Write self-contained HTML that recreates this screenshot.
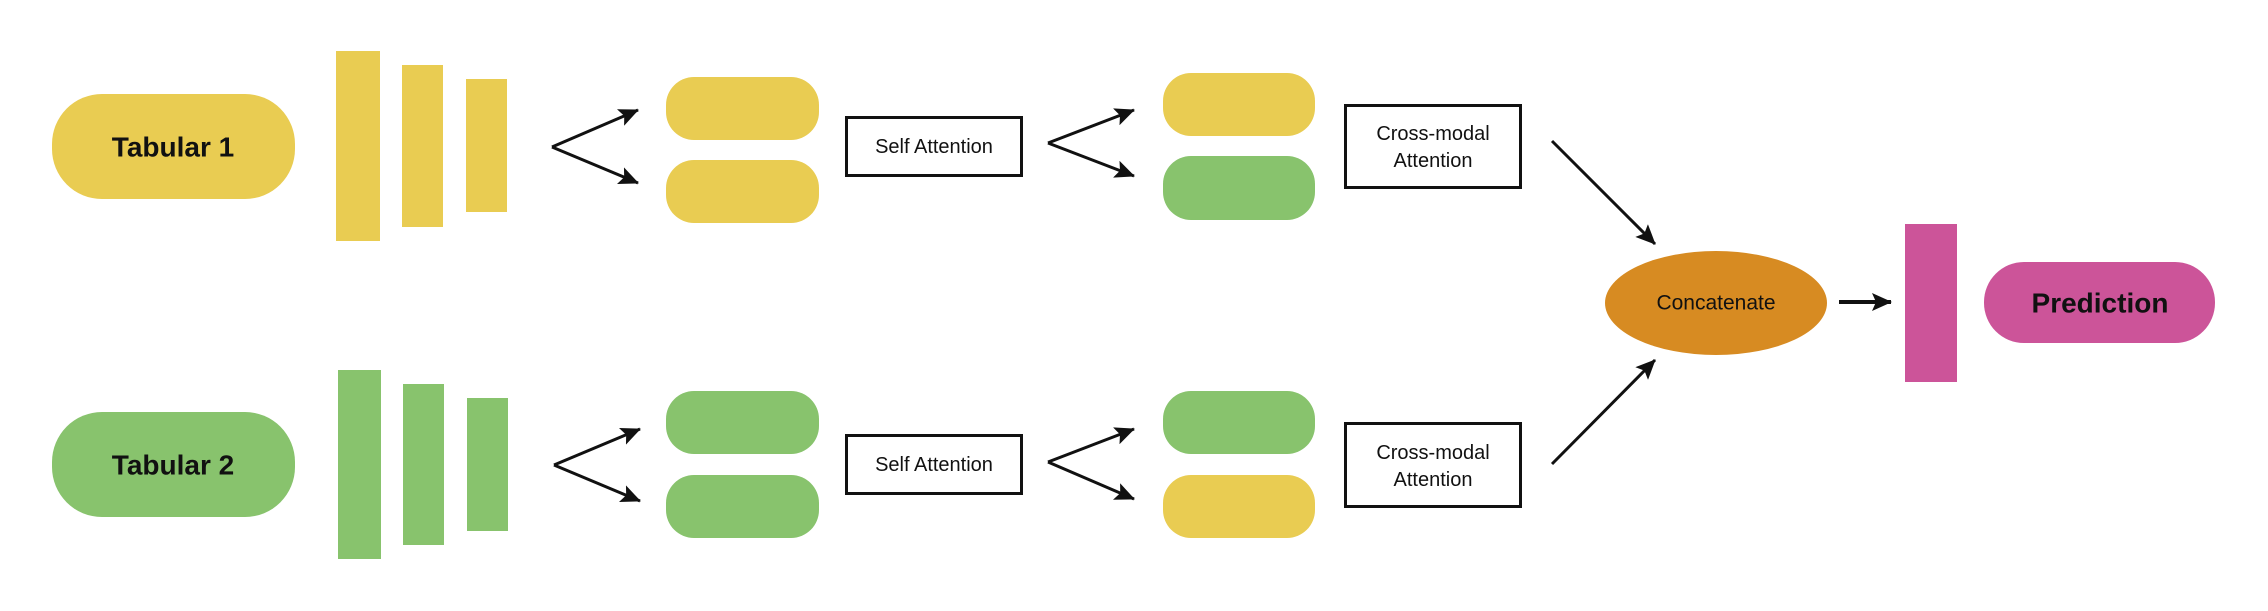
<!DOCTYPE html>
<html><head><style>
html,body{margin:0;padding:0;background:#fff;}
svg{display:block;}
text{font-family:"Liberation Sans",sans-serif;fill:#111;text-anchor:middle;dominant-baseline:central;}
.big{font-weight:bold;}
</style></head><body>
<svg width="2268" height="611" viewBox="0 0 2268 611" xmlns="http://www.w3.org/2000/svg">
<defs>
<marker id="ah2" markerWidth="20" markerHeight="18" refX="19" refY="9" orient="auto" markerUnits="userSpaceOnUse">
<path d="M0,0 L20,9 L0,18 L4,9 Z" fill="#111"/>
</marker>
</defs>
<g stroke="#111" stroke-width="3" fill="none">
<line x1="552" y1="147" x2="638" y2="110" marker-end="url(#ah2)"/>
<line x1="552" y1="147" x2="638" y2="183" marker-end="url(#ah2)"/>
<line x1="1048" y1="143" x2="1134" y2="110" marker-end="url(#ah2)"/>
<line x1="1048" y1="143" x2="1134" y2="176" marker-end="url(#ah2)"/>
<line x1="554" y1="465" x2="640" y2="429" marker-end="url(#ah2)"/>
<line x1="554" y1="465" x2="640" y2="501" marker-end="url(#ah2)"/>
<line x1="1048" y1="462" x2="1134" y2="429" marker-end="url(#ah2)"/>
<line x1="1048" y1="462" x2="1134" y2="499" marker-end="url(#ah2)"/>
<line x1="1552" y1="141" x2="1655" y2="244" marker-end="url(#ah2)"/>
<line x1="1552" y1="464" x2="1655" y2="360" marker-end="url(#ah2)"/>
<line x1="1839" y1="302" x2="1891" y2="302" stroke-width="4" marker-end="url(#ah2)"/>
</g>
<rect x="52" y="94" width="243" height="105" rx="50" ry="50" fill="#E9CC52"/>
<text x="173" y="147" font-size="28" class="big">Tabular 1</text>
<rect x="336" y="51" width="44" height="190" fill="#E9CC52"/>
<rect x="402" y="65" width="41" height="162" fill="#E9CC52"/>
<rect x="466" y="79" width="41" height="133" fill="#E9CC52"/>
<rect x="666" y="77" width="153" height="63" rx="28" fill="#E9CC52"/>
<rect x="666" y="160" width="153" height="63" rx="28" fill="#E9CC52"/>
<rect x="846.5" y="117.5" width="175" height="58" fill="#fff" stroke="#111" stroke-width="3"/>
<text x="934" y="147" font-size="20">Self Attention</text>
<rect x="1163" y="73" width="152" height="63" rx="28" fill="#E9CC52"/>
<rect x="1163" y="156" width="152" height="64" rx="28" fill="#88C36D"/>
<rect x="1345.5" y="105.5" width="175" height="82" fill="#fff" stroke="#111" stroke-width="3"/>
<text x="1433" y="134" font-size="20">Cross-modal</text>
<text x="1433" y="161" font-size="20">Attention</text>
<rect x="52" y="412" width="243" height="105" rx="50" ry="50" fill="#88C36D"/>
<text x="173" y="465" font-size="28" class="big">Tabular 2</text>
<rect x="338" y="370" width="43" height="189" fill="#88C36D"/>
<rect x="403" y="384" width="41" height="161" fill="#88C36D"/>
<rect x="467" y="398" width="41" height="133" fill="#88C36D"/>
<rect x="666" y="391" width="153" height="63" rx="28" fill="#88C36D"/>
<rect x="666" y="475" width="153" height="63" rx="28" fill="#88C36D"/>
<rect x="846.5" y="435.5" width="175" height="58" fill="#fff" stroke="#111" stroke-width="3"/>
<text x="934" y="465" font-size="20">Self Attention</text>
<rect x="1163" y="391" width="152" height="63" rx="28" fill="#88C36D"/>
<rect x="1163" y="475" width="152" height="63" rx="28" fill="#E9CC52"/>
<rect x="1345.5" y="423.5" width="175" height="83" fill="#fff" stroke="#111" stroke-width="3"/>
<text x="1433" y="453" font-size="20">Cross-modal</text>
<text x="1433" y="480" font-size="20">Attention</text>
<ellipse cx="1716" cy="303" rx="111" ry="52" fill="#D78B22"/>
<text x="1716" y="303" font-size="21">Concatenate</text>
<rect x="1905" y="224" width="52" height="158" fill="#CC5499"/>
<rect x="1984" y="262" width="231" height="81" rx="40" fill="#CC5499"/>
<text x="2100" y="303" font-size="28" class="big">Prediction</text>
</svg>
</body></html>
